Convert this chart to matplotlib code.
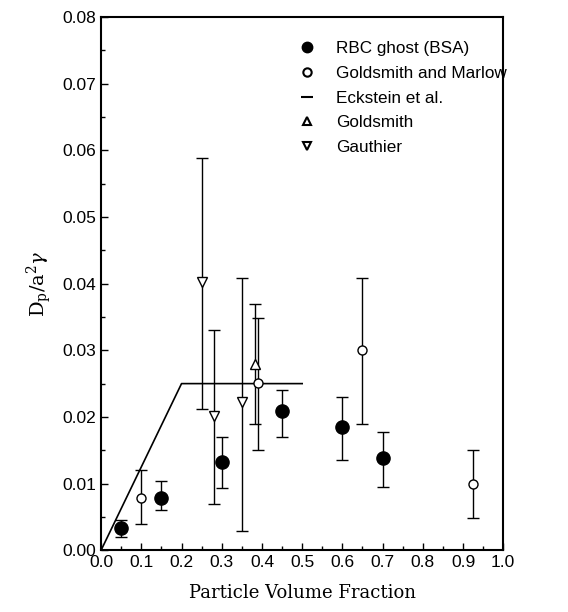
import numpy as np
import matplotlib
matplotlib.use('Agg')
import matplotlib.pyplot as plt
from matplotlib.lines import Line2D
from matplotlib.ticker import MultipleLocator, FormatStrFormatter

plt.rcParams['mathtext.fontset'] = 'dejavuserif'

# RBC ghost (BSA) - filled circles
rbc_x = [0.05, 0.15, 0.30, 0.45, 0.60, 0.70]
rbc_y = [0.0033, 0.0079, 0.0132, 0.0209, 0.0185, 0.0138]
rbc_lo = [0.0020, 0.0060, 0.0094, 0.0170, 0.0135, 0.0095]
rbc_hi = [0.0045, 0.0104, 0.0170, 0.0241, 0.0230, 0.0177]

# Goldsmith and Marlow - open circles
gm_x = [0.10, 0.39, 0.65, 0.925]
gm_y = [0.0079, 0.0251, 0.0300, 0.0099]
gm_lo = [0.0039, 0.0150, 0.0190, 0.0048]
gm_hi = [0.0120, 0.0349, 0.0408, 0.0150]

# Eckstein et al. - line
eck_x = [0.0, 0.2, 0.5]
eck_y = [0.0, 0.025, 0.025]

# Goldsmith - up triangle
gs_x = [0.382]
gs_y = [0.0280]
gs_lo = [0.0189]
gs_hi = [0.0369]

# Gauthier - down triangles
ga_x = [0.25, 0.28, 0.35]
ga_y = [0.0402, 0.0201, 0.0223]
ga_lo = [0.0212, 0.0069, 0.0029]
ga_hi = [0.0589, 0.0330, 0.0408]

labels = ['RBC ghost (BSA)', 'Goldsmith and Marlow', 'Eckstein et al.',
          'Goldsmith', 'Gauthier']


def yerr(y, lo, hi):
    y = np.array(y)
    return [y - np.array(lo), np.array(hi) - y]


fig = plt.figure(figsize=(5.68, 6.12), dpi=100)
ax = fig.add_axes([0.178, 0.101, 0.708, 0.871])

ekw = dict(ecolor='black', elinewidth=1.0, capsize=4, capthick=1.0, linestyle='none')

ax.errorbar(rbc_x, rbc_y, yerr=yerr(rbc_y, rbc_lo, rbc_hi), marker='o', ms=9.5,
            mfc='black', mec='black', **ekw)
ax.errorbar(gm_x, gm_y, yerr=yerr(gm_y, gm_lo, gm_hi), marker='o', ms=6.5,
            mfc='white', mec='black', mew=1.0, **ekw)
ax.plot(eck_x, eck_y, color='black', lw=1.2)
ax.errorbar(gs_x, gs_y, yerr=yerr(gs_y, gs_lo, gs_hi), marker='^', ms=6.5,
            mfc='white', mec='black', mew=1.0, **ekw)
ax.errorbar(ga_x, ga_y, yerr=yerr(ga_y, ga_lo, ga_hi), marker='v', ms=6.5,
            mfc='white', mec='black', mew=1.0, **ekw)

ax.set_xlim(0, 1.0)
ax.set_ylim(0, 0.08)
ax.xaxis.set_major_locator(MultipleLocator(0.1))
ax.xaxis.set_minor_locator(MultipleLocator(0.05))
ax.yaxis.set_major_locator(MultipleLocator(0.01))
ax.yaxis.set_minor_locator(MultipleLocator(0.005))
ax.xaxis.set_major_formatter(FormatStrFormatter('%.1f'))
ax.yaxis.set_major_formatter(FormatStrFormatter('%.2f'))
ax.tick_params(which='both', direction='in', top=False, right=False, width=1.0,
               labelsize=12.5)
ax.tick_params(which='major', length=5)
ax.tick_params(which='minor', length=3)
for s in ax.spines.values():
    s.set_linewidth(1.5)
for lab in ax.get_xticklabels() + ax.get_yticklabels():
    lab.set_family('Liberation Sans')

ax.set_xlabel('Particle Volume Fraction', family='DejaVu Serif', fontsize=13, labelpad=10)
ax.set_ylabel(r'$\mathrm{D_p/a^2}\gamma$', fontsize=14, labelpad=6)

# legend handles: markers only, short dash for Eckstein
handles = [
    Line2D([], [], ls='none', marker='o', ms=7.5, mfc='black', mec='black'),
    Line2D([], [], ls='none', marker='o', ms=6, mfc='white', mec='black', mew=1.5),
    Line2D([], [], ls='none', marker='_', ms=8, mec='black', mew=1.5),
    Line2D([], [], ls='none', marker='^', ms=6, mfc='white', mec='black', mew=1.5),
    Line2D([], [], ls='none', marker='v', ms=6, mfc='white', mec='black', mew=1.5),
]
ax.legend(handles, labels, loc='upper left', bbox_to_anchor=(0.46, 0.984),
          frameon=False, prop={'family': 'Liberation Sans', 'size': 12.3},
          handlelength=0.7, handletextpad=1.3, labelspacing=0.57)

fig.savefig('out.png', dpi=100)
